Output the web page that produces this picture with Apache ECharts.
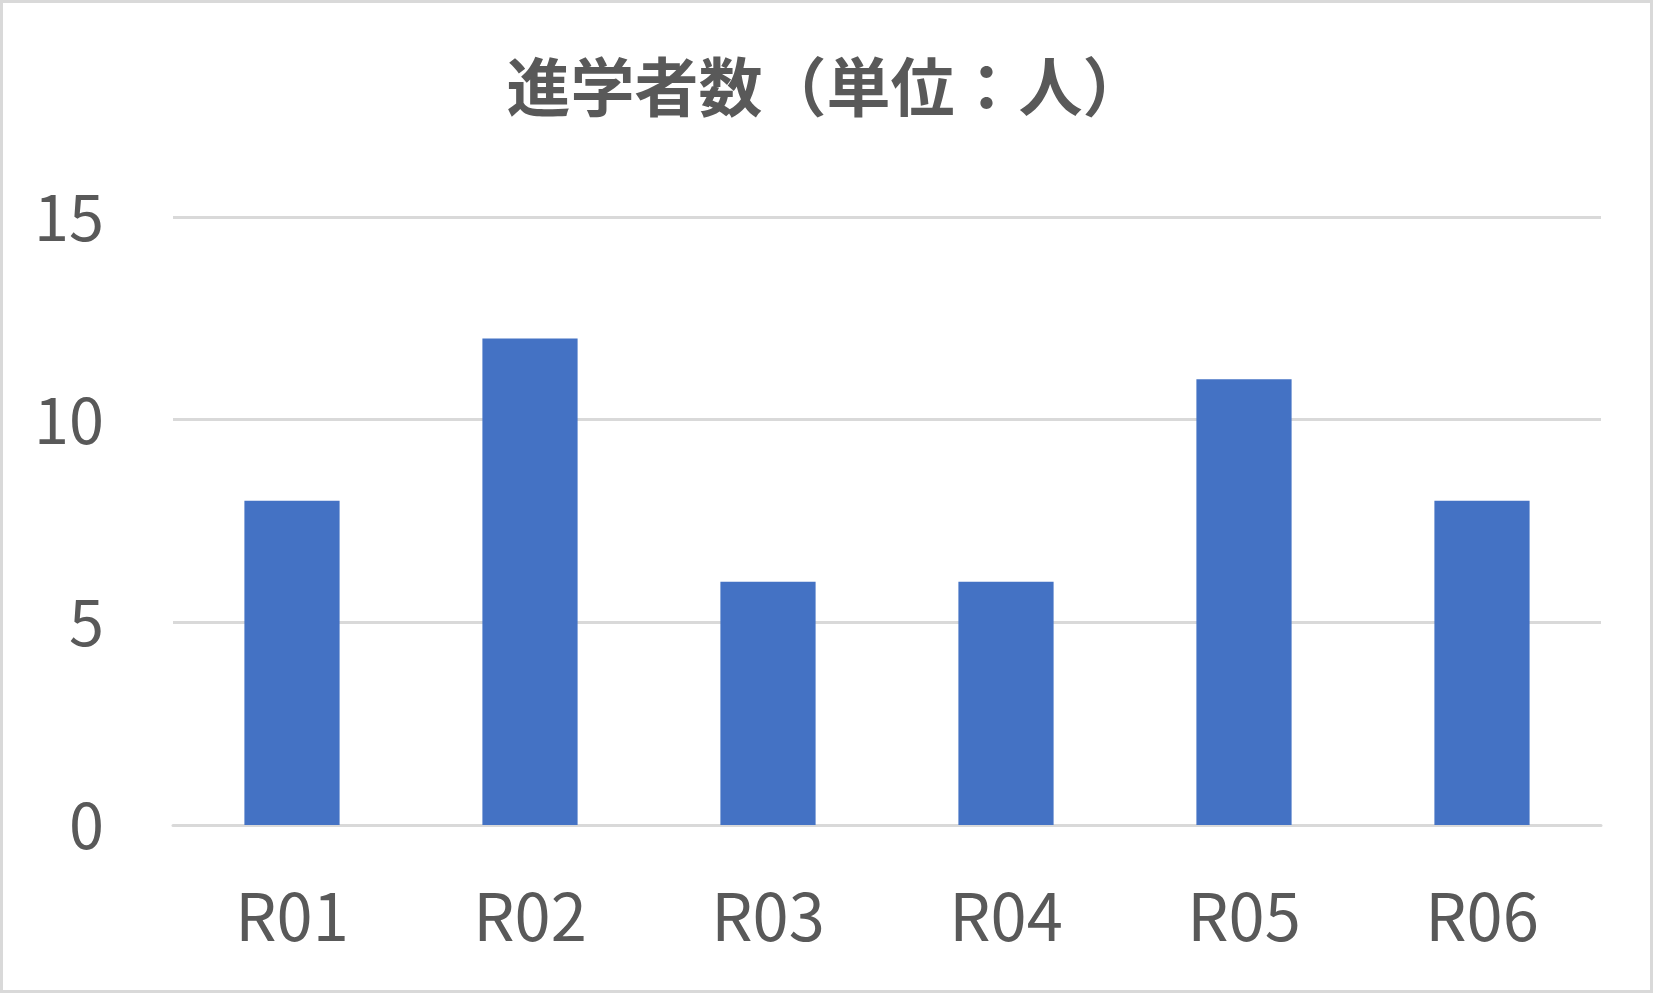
<!DOCTYPE html>
<html lang="ja">
<head>
    <meta charset="utf-8" />
    <title>進学者数</title>
    <script src="https://cdn.jsdelivr.net/npm/echarts@6/dist/echarts.min.js"></script>
    <style>
        html, body { margin: 0; padding: 0; background: #ffffff; }
        #main { width: 1653px; height: 993px; }
    </style>
</head>
<body>
    <div id="main"></div>
    <script type="text/javascript">
        // データ
        var categories = ['R01', 'R02', 'R03', 'R04', 'R05', 'R06'];
        var students = [8, 12, 6, 6, 11, 8];
        var yTicks = [0, 5, 10, 15];

        var textColor = '#595959';
        var lineColor = '#d9d9d9';
        var font = '"Noto Sans CJK JP", "Noto Sans", sans-serif';

        var myChart = echarts.init(document.getElementById('main'));
        var option = {
            animation: false,
            backgroundColor: '#ffffff',
            title: {
                text: '進学者数（単位：人）',
                left: 'center',
                top: 50,
                textStyle: {
                    fontFamily: font,
                    fontSize: 64,
                    fontWeight: 'bold',
                    color: textColor
                }
            },
            graphic: [{
                type: 'rect',
                shape: { x: 1.5, y: 1.5, width: 1650, height: 990 },
                style: { fill: 'none', stroke: lineColor, lineWidth: 3 },
                z: 100
            }],
            grid: {
                left: 173,
                right: 52,
                top: 217,
                bottom: 168,
                containLabel: false
            },
            xAxis: {
                type: 'category',
                data: categories,
                axisTick: { show: false },
                axisLine: { show: true, lineStyle: { color: lineColor, width: 3 } },
                axisLabel: {
                    margin: 59,
                    fontFamily: font,
                    fontSize: 65,
                    color: textColor
                }
            },
            yAxis: {
                type: 'value',
                min: yTicks[0],
                max: yTicks[yTicks.length - 1],
                interval: 5,
                axisLine: { show: false },
                axisTick: { show: false },
                splitLine: { lineStyle: { color: lineColor, width: 3 } },
                axisLabel: {
                    margin: 69,
                    fontFamily: font,
                    fontSize: 63,
                    color: textColor
                }
            },
            series: [{
                name: '進学者数',
                type: 'bar',
                data: students,
                barWidth: '40%',
                itemStyle: { color: '#4472c4' }
            }]
        };
        myChart.setOption(option);

        window.onresize = function () {
            myChart.resize();
        };
    </script>
</body>
</html>
